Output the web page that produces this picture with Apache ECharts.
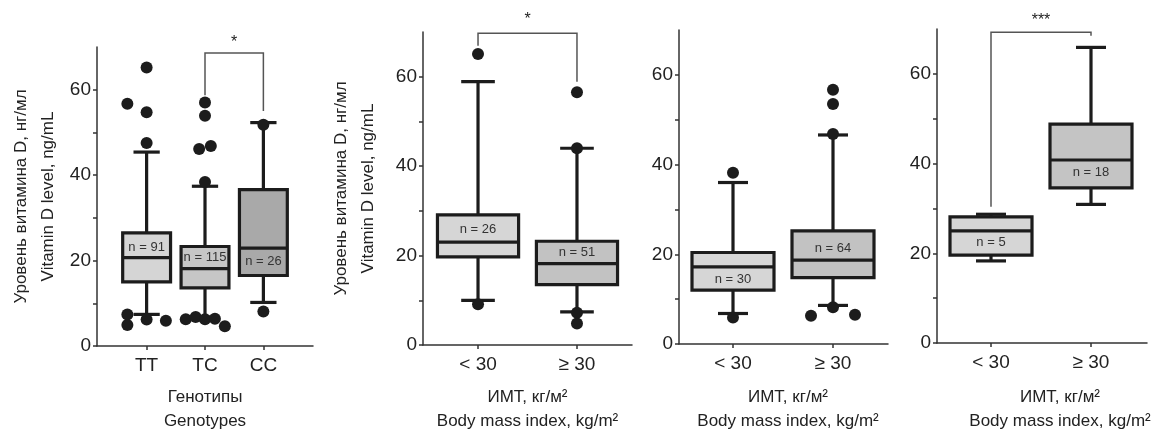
<!DOCTYPE html>
<html><head><meta charset="utf-8">
<script src="https://cdn.jsdelivr.net/npm/echarts@6/dist/echarts.min.js"></script>
<style>html,body{margin:0;padding:0;background:#fff}#c{width:1164px;height:432px}</style>
</head><body><div id="c"></div>
<script>
// ---------- data ----------
const genotypeCategories = ['TT', 'TC', 'CC'];
const bmiCategories = ['< 30', '≥ 30'];

// each box: [min, Q1, median, Q3, max]
const panelABoxes = [
  [7.4, 15.0, 20.7, 26.5, 45.4],
  [6.8, 13.6, 18.1, 23.3, 37.4],
  [10.2, 16.5, 22.9, 36.6, 52.3]
];
// outliers: [category position (1-based, with jitter), value]
const panelAOutliers = [
  [1, 65.2], [0.67, 56.7], [1, 54.7], [1, 47.5], [0.67, 7.4], [0.67, 4.9], [1, 6.2], [1.33, 5.9],
  [2, 57.0], [2, 53.9], [1.9, 46.1], [2.1, 46.8], [2, 38.4],
  [1.67, 6.25], [1.84, 6.8], [2, 6.25], [2.17, 6.4], [2.34, 4.6],
  [3, 51.8], [3, 8.1]
];
const panelAN = ['n = 91', 'n = 115', 'n = 26'];
const panelANLabelY = [23.1, 20.8, 19.7];

const panelBBoxes = [
  [10.0, 19.7, 23.0, 29.1, 58.9],
  [7.4, 13.5, 18.2, 23.2, 44.0]
];
const panelBOutliers = [[1, 65.1], [1, 9.1], [2, 56.5], [2, 44.0], [2, 7.2], [2, 4.8]];
const panelBN = ['n = 26', 'n = 51'];
const panelBNLabelY = [25.8, 20.7];

const panelCBoxes = [
  [6.8, 12.0, 17.2, 20.4, 36.0],
  [8.6, 14.8, 18.7, 25.2, 46.6]
];
const panelCOutliers = [[1, 38.2], [1, 5.9], [2, 56.7], [2, 53.5], [2, 46.8], [2, 8.2], [1.78, 6.3], [2.22, 6.5]];
const panelCN = ['n = 30', 'n = 64'];
const panelCNLabelY = [14.5, 21.4];

const panelDBoxes = [
  [18.3, 19.6, 25.0, 28.1, 28.7],
  [30.9, 34.6, 40.8, 48.8, 65.9]
];
const panelDOutliers = [];
const panelDN = ['n = 5', 'n = 18'];
const panelDNLabelY = [22.4, 38.0];

// significance brackets: [x1, x2, top, leftEnd, rightEnd]
const panelABracket = [2, 3, 68.6, 58.7, 55.0];
const panelBBracket = [1, 2, 69.7, 66.9, 58.9];
const panelDBracket = [1, 2, 69.3, 30.4, 68.5];
const panelAStars = '*';
const panelBStars = '*';
const panelDStars = '***';

const yTickValues = [0, 10, 20, 30, 40, 50, 60];
const yLabelValues = [0, 20, 40, 60];

const yName = 'Уровень витамина D, нг/мл\nVitamin D level, ng/mL';
const genotypeName = 'Генотипы\nGenotypes';
const bmiName = 'ИМТ, кг/м²\nBody mass index, kg/m²';

// ---------- styles ----------
const FONT = '"Liberation Sans", Arial, sans-serif';
const INK = '#1c1c1c';

function boxRender(fills, capFrac) {
  return function (params, api) {
    const x = api.value(0);
    const pMin = api.coord([x, api.value(1)]);
    const pQ1 = api.coord([x, api.value(2)]);
    const pMed = api.coord([x, api.value(3)]);
    const pQ3 = api.coord([x, api.value(4)]);
    const pMax = api.coord([x, api.value(5)]);
    const bw = api.size([0.82, 0])[0];
    const cw = api.size([capFrac, 0])[0];
    const ls = { stroke: INK, lineWidth: 3.2 };
    const cx = pMed[0];
    return {
      type: 'group',
      children: [
        { type: 'line', shape: { x1: cx, y1: pMax[1], x2: cx, y2: pQ3[1] }, style: ls },
        { type: 'line', shape: { x1: cx, y1: pQ1[1], x2: cx, y2: pMin[1] }, style: ls },
        { type: 'line', shape: { x1: cx - cw / 2, y1: pMax[1], x2: cx + cw / 2, y2: pMax[1] }, style: ls },
        { type: 'line', shape: { x1: cx - cw / 2, y1: pMin[1], x2: cx + cw / 2, y2: pMin[1] }, style: ls },
        { type: 'rect', shape: { x: cx - bw / 2, y: pQ3[1], width: bw, height: pQ1[1] - pQ3[1] },
          style: { fill: fills[params.dataIndex], stroke: INK, lineWidth: 3.2 } },
        { type: 'line', shape: { x1: cx - bw / 2, y1: pMed[1], x2: cx + bw / 2, y2: pMed[1] }, style: ls }
      ]
    };
  };
}
function labelRender(texts) {
  return function (params, api) {
    const p = api.coord([api.value(0), api.value(1)]);
    return { type: 'text', x: p[0], y: p[1],
      style: { text: texts[params.dataIndex], fill: '#333', font: '13px ' + FONT, align: 'center', verticalAlign: 'middle' } };
  };
}
function bracketRender(stars, starLift) {
  return function (params, api) {
    const x1 = api.value(0), x2 = api.value(1), top = api.value(2);
    const a = api.coord([x1, api.value(3)]);
    const b = api.coord([x1, top]);
    const c = api.coord([x2, top]);
    const d = api.coord([x2, api.value(4)]);
    return { type: 'group', children: [
      { type: 'polyline', shape: { points: [a, b, c, d] }, style: { stroke: '#555', lineWidth: 1.5, fill: null } },
      { type: 'text', x: (b[0] + c[0]) / 2, y: b[1] - starLift,
        style: { text: stars, fill: '#222', font: '16px ' + FONT, align: 'center', verticalAlign: 'middle' } }
    ] };
  };
}

const grids = [
  { left: 97, top: 47, width: 216, height: 299, containLabel: false, outerBoundsMode: 'none' },
  { left: 423, top: 32, width: 209, height: 313, containLabel: false, outerBoundsMode: 'none' },
  { left: 679, top: 30, width: 209, height: 314, containLabel: false, outerBoundsMode: 'none' },
  { left: 937, top: 29, width: 210, height: 314, containLabel: false, outerBoundsMode: 'none' }
];
const xRanges = [[0.15, 3.85], [0.444, 2.556], [0.46, 2.55], [0.46, 2.56]];
const xCats = [genotypeCategories, bmiCategories, bmiCategories, bmiCategories];
const xNames = [genotypeName, bmiName, bmiName, bmiName];
const xNamePad = [[0, 0, 0, 0], [0, 0, 0, 0], [0, 0, 0, 9], [0, 0, 0, 36]];
const xNameGaps = [39, 40, 41, 42];
const yNameGaps = [35, 41, null, null];

const xAxes = grids.map((g, i) => ({
  type: 'value', gridIndex: i, min: xRanges[i][0], max: xRanges[i][1],
  splitLine: { show: false },
  axisLine: { show: true, onZero: false, lineStyle: { color: '#333', width: 1.5 } },
  axisTick: { show: true, customValues: xCats[i].map((c, k) => k + 1), length: 4, lineStyle: { color: '#333', width: 1.5 } },
  axisLabel: { customValues: xCats[i].map((c, k) => k + 1), formatter: v => xCats[i][Math.round(v) - 1],
    fontSize: 19, color: '#222', fontFamily: FONT, margin: 10 },
  name: xNames[i], nameLocation: 'middle', nameGap: xNameGaps[i], nameMoveOverlap: false,
  nameTextStyle: { fontSize: 17, lineHeight: 24, color: '#222', fontFamily: FONT, padding: xNamePad[i] }
}));
const yAxes = grids.map((g, i) => {
  const ax = {
    type: 'value', gridIndex: i, min: 0, max: 70,
    splitLine: { show: false },
    axisLine: { show: true, lineStyle: { color: '#333', width: 1.5 } },
    axisTick: { show: true, customValues: yTickValues, length: 4, lineStyle: { color: '#333', width: 1.5 } },
    axisLabel: { customValues: yLabelValues, fontSize: 19, color: '#222', fontFamily: FONT, margin: 6 }
  };
  if (yNameGaps[i] !== null) {
    Object.assign(ax, { name: yName, nameLocation: 'middle', nameGap: yNameGaps[i], nameMoveOverlap: false,
      nameTextStyle: { fontSize: 17, lineHeight: 27, color: '#222', fontFamily: FONT } });
  }
  return ax;
});

const panels = [
  { boxes: panelABoxes, outliers: panelAOutliers, n: panelAN, ny: panelANLabelY, fills: ['#d5d5d5', '#c6c6c6', '#a9a9a9'], cap: 0.45, bracket: panelABracket, stars: panelAStars, starLift: 10 },
  { boxes: panelBBoxes, outliers: panelBOutliers, n: panelBN, ny: panelBNLabelY, fills: ['#d6d6d6', '#c2c2c2'], cap: 0.34, bracket: panelBBracket, stars: panelBStars, starLift: 14 },
  { boxes: panelCBoxes, outliers: panelCOutliers, n: panelCN, ny: panelCNLabelY, fills: ['#d6d6d6', '#c2c2c2'], cap: 0.3, bracket: null },
  { boxes: panelDBoxes, outliers: panelDOutliers, n: panelDN, ny: panelDNLabelY, fills: ['#d6d6d6', '#c4c4c4'], cap: 0.3, bracket: panelDBracket, stars: panelDStars, starLift: 12 }
];

const series = [];
panels.forEach((p, i) => {
  series.push({ type: 'custom', xAxisIndex: i, yAxisIndex: i, renderItem: boxRender(p.fills, p.cap),
    data: p.boxes.map((b, k) => [k + 1].concat(b)), encode: { x: 0, y: [1, 2, 3, 4, 5] }, silent: true, z: 2 });
  series.push({ type: 'custom', xAxisIndex: i, yAxisIndex: i, renderItem: labelRender(p.n),
    data: p.ny.map((y, k) => [k + 1, y]), silent: true, z: 3 });
  series.push({ type: 'scatter', xAxisIndex: i, yAxisIndex: i, data: p.outliers, symbolSize: 12,
    itemStyle: { color: INK, opacity: 1 }, silent: true, z: 4 });
  if (p.bracket) {
    series.push({ type: 'custom', xAxisIndex: i, yAxisIndex: i, renderItem: bracketRender(p.stars, p.starLift),
      data: [p.bracket], encode: { x: [0, 1], y: [2, 3, 4] }, silent: true, z: 5, clip: false });
  }
});

const chart = echarts.init(document.getElementById('c'), null, { renderer: 'canvas' });
chart.setOption({
  animation: false,
  backgroundColor: '#fff',
  grid: grids,
  xAxis: xAxes,
  yAxis: yAxes,
  series: series
});
</script>
</body></html>
